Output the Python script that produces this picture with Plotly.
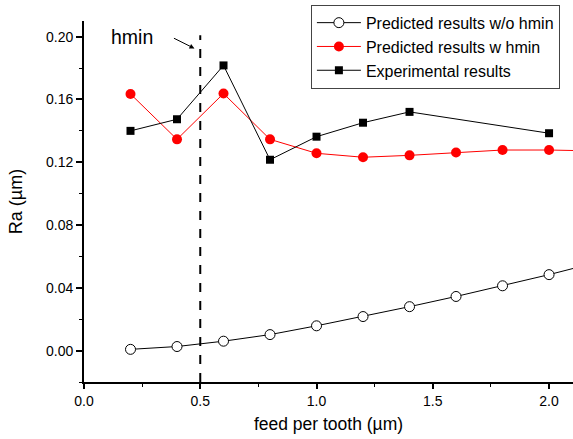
import plotly.graph_objects as go

feed = [0.2, 0.4, 0.6, 0.8, 1.0, 1.2, 1.4, 1.6, 1.8, 2.0, 2.2]
pred_wo = [0.0008, 0.0026, 0.006, 0.0102, 0.0158, 0.0217, 0.028, 0.0345, 0.0413, 0.0484, 0.056]
pred_w = [0.1635, 0.1346, 0.1638, 0.1346, 0.1257, 0.1232, 0.1244, 0.1262, 0.1278, 0.1278, 0.1272]
exp_feed = [0.2, 0.4, 0.6, 0.8, 1.0, 1.2, 1.4, 2.0]
exp_ra = [0.1400, 0.1474, 0.1817, 0.1216, 0.1363, 0.1452, 0.1521, 0.1385]
hmin_x = 0.5

FONT = "Arial, Liberation Sans, Helvetica, sans-serif"

fig = go.Figure()
fig.add_trace(go.Scatter(
    x=feed, y=pred_wo, mode="lines+markers", name="Predicted results w/o hmin",
    line=dict(color="black", width=1),
    marker=dict(symbol="circle", size=10, color="white", line=dict(color="black", width=1)),
))
fig.add_trace(go.Scatter(
    x=feed, y=pred_w, mode="lines+markers", name="Predicted results w hmin",
    line=dict(color="red", width=1),
    marker=dict(symbol="circle", size=10, color="red", line=dict(width=0)),
))
fig.add_trace(go.Scatter(
    x=exp_feed, y=exp_ra, mode="lines+markers", name="Experimental results",
    line=dict(color="black", width=1),
    marker=dict(symbol="square", size=8, color="black", line=dict(width=0)),
))

fig.add_shape(type="line", xref="x", yref="y", x0=hmin_x, x1=hmin_x, y0=-0.02, y1=0.201,
              line=dict(color="black", width=2, dash="dash"))
fig.add_annotation(x=0.475, y=0.1925, xref="x", yref="y", ax=-22, ay=-11, text="",
                   showarrow=True, arrowhead=2, arrowsize=1, arrowwidth=1, arrowcolor="black")
fig.add_annotation(x=0.207, y=0.1995, xref="x", yref="y", text="hmin", showarrow=False,
                   font=dict(family=FONT, size=19.5, color="black"))

fig.update_layout(
    width=573, height=439,
    margin=dict(l=84, r=0, t=21, b=57),
    paper_bgcolor="white", plot_bgcolor="white",
    font=dict(family=FONT, size=14, color="black"),
    showlegend=True,
    legend=dict(x=0.464, y=1.045, xanchor="left", yanchor="top",
                bordercolor="#444", borderwidth=1, bgcolor="white",
                font=dict(family=FONT, size=16), itemwidth=44,
                tracegroupgap=0),
)
fig.update_xaxes(
    range=[0, 2.103], showgrid=False, zeroline=False,
    showline=True, linecolor="black", linewidth=1.8,
    ticks="outside", ticklen=5, tickwidth=1.5, tickcolor="black",
    tickvals=[0, 0.5, 1.0, 1.5, 2.0], ticktext=["0.0", "0.5", "1.0", "1.5", "2.0"],
    tickfont=dict(size=14),
    minor=dict(ticks="outside", ticklen=3, tickwidth=1, tickcolor="black",
               tickvals=[0.25, 0.75, 1.25, 1.75]),
    title=dict(text="feed per tooth (µm)", font=dict(size=17.5), standoff=10),
)
fig.update_yaxes(
    range=[-0.02, 0.21], showgrid=False, zeroline=False,
    showline=True, linecolor="black", linewidth=1.8,
    ticks="outside", ticklen=6, tickwidth=1.5, tickcolor="black",
    tickvals=[0.0, 0.04, 0.08, 0.12, 0.16, 0.20],
    ticktext=["0.00", "0.04", "0.08", "0.12", "0.16", "0.20"],
    tickfont=dict(size=14),
    minor=dict(ticks="outside", ticklen=3, tickwidth=1, tickcolor="black",
               tickvals=[-0.02, 0.02, 0.06, 0.10, 0.14, 0.18]),
    title=dict(text="Ra (µm)", font=dict(size=18), standoff=19),
)

fig.write_html("out.html")
